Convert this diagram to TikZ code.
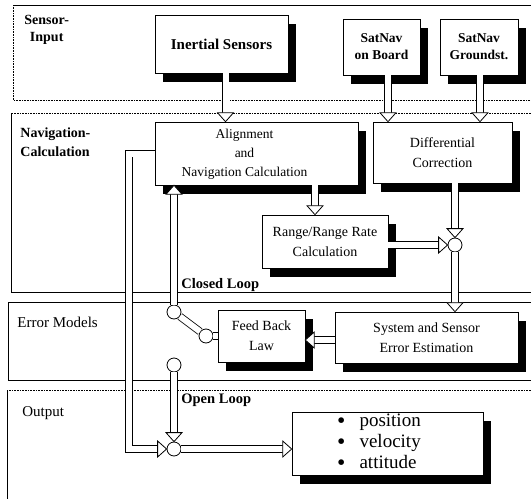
\documentclass[tikz,border=0pt]{standalone}
\usepackage{fontspec}
\setmainfont{Liberation Serif}
\usetikzlibrary{calc}
\tikzset{
  every picture/.style={
    line width=0.8pt
  },
  blk/.style={
    draw, fill=white, line width=0.6pt, align=center,
    inner sep=2pt, font=\fontsize{14}{20}\selectfont
  },
  shd/.style={
    inner sep=0pt, outer sep=0pt
  },
  junc/.style={
    circle, draw, fill=white, minimum size=14pt,
    inner sep=0pt
  },
  pipe/.style={
    draw, double=white, double distance=6pt
  },
  arr/.style={
    pipe, shorten >=9pt
  },
  head/.pic={
    \draw[fill=white] (0,0) -- (-9,-8) -- (-9,8) -- cycle;
  },
  lbl/.style={
    anchor=north west, align=left, inner sep=0pt,
    font=\fontsize{14}{17}\selectfont\bfseries
  },
  band/.style={line width=0.6pt},
  dotband/.style={line width=0.6pt, densely dotted}
}
% block with black shadow: name, centre, width, height, options, text
\newcommand{\shbox}[6]{%
  \node[shd] (#1-sh) at ([xshift=8pt,yshift=-9pt]#2) {\rule{#3}{#4}};
  \node[blk, minimum width=#3, minimum height=#4, #5] (#1) at (#2) {#6};}
\newcommand{\bul}{\raisebox{-0.1em}{\scalebox{1.25}{\textbullet}}}

\begin{document}
\begin{tikzpicture}[x=1pt, y=-1pt]
    \useasboundingbox (0,0) rectangle (531,499);
    % bands
    \draw[band] (531,5) -- (13,5);
    \draw[dotband] (13,5) -- (13,100) -- (531,100);
    \draw[dotband] (531,113) -- (11,113);
    \draw[band] (11,113) -- (11,292) -- (531,292);
    \draw[band] (531,302) -| (8,380) -- (531,380);
    \draw[dotband] (531,390) -- (7,390);
    \draw[band] (7,390) -- (7,499);
    \node[lbl, align=center] (lsens) at (24,15) {Sensor-\\Input};
    \node[lbl, font=\fontsize{14}{19}\selectfont\bfseries] (lnav) at (20,127) {Navigation-\\Calculation};
    \node[lbl, font=\fontsize{15}{17}\selectfont] (lerr) at (17,317) {Error Models};
    \node[lbl, font=\fontsize{15}{17}\selectfont] (lout) at (22,406) {Output};
    \node[lbl, font=\fontsize{14.5}{17}\selectfont\bfseries] (lcl) at (181,278) {Closed Loop};
    \node[lbl, font=\fontsize{14.5}{17}\selectfont\bfseries] (lol) at (181,393) {Open Loop};

    % blocks
    \shbox{inert}{221.5,44}{133pt}{58pt}{font=\fontsize{15}{18}\selectfont\bfseries}{Inertial Sensors}
    \shbox{sbord}{381.5,47}{77pt}{56pt}{font=\fontsize{13.5}{17}\selectfont\bfseries}{SatNav\\on Board}
    \shbox{sgnd}{479,47}{78pt}{56pt}{font=\fontsize{13.5}{17}\selectfont\bfseries}{SatNav\\Groundst.}
    \shbox{align}{256.5,153.5}{203pt}{63pt}{font=\fontsize{13.5}{19}\selectfont}{%
      \begin{tabular}{@{}c@{}}Alignment\\and\\Navigation Calculation\end{tabular}\hspace{24pt}}
    \shbox{diffc}{442.5,152.5}{139pt}{61pt}{}{Differential\\Correction}
    \shbox{rrate}{325,241.5}{126pt}{53pt}{}{Range/Range Rate\\Calculation}
    \shbox{fbl}{261.5,336}{87pt}{52pt}{}{Feed Back\\Law}
    \shbox{sest}{426.5,337.5}{183pt}{51pt}{}{System and Sensor\\Error Estimation}
    \shbox{outp}{387.5,443.5}{191pt}{63pt}{inner sep=0pt, font=\fontsize{19}{21}\selectfont}{%
      \begin{tabular}{@{}l@{\hspace{14pt}}l@{\hspace{17pt}}}
        \bul & position\\
        \bul & velocity\\
        \bul & attitude
      \end{tabular}}

    % junctions and switch
    \node[junc] (sumR) at (455,245) {};
    \node[junc] (sw1) at (174,312) {};
    \node[junc] (sw2) at (206,336) {};
    \node[junc] (sw3) at (174,365) {};
    \node[junc] (sumL) at (174,449) {};

    % signal flow
    \draw[arr] ([xshift=4pt]inert.south) -- ([xshift=4pt]inert.south |- align.north) coordinate (t1);
    \pic[rotate=-90] at (t1) {head};
    \draw[arr] ([xshift=6.5pt]sbord.south) -- ([xshift=6.5pt]sbord.south |- diffc.north) coordinate (t2);
    \pic[rotate=-90] at (t2) {head};
    \draw[arr] ([xshift=1pt]sgnd.south) -- ([xshift=1pt]sgnd.south |- diffc.north) coordinate (t3);
    \pic[rotate=-90] at (t3) {head};
    \draw[arr] ([xshift=58.5pt]align.south) -- ([xshift=58.5pt]align.south |- rrate.north) coordinate (t4);
    \pic[rotate=-90] at (t4) {head};
    \draw[arr] (sumR |- diffc.south) -- (sumR.north);
    \pic[rotate=-90] at (sumR.north) {head};
    \draw[arr] (rrate.east |- sumR) -- (sumR.west);
    \pic at (sumR.west) {head};
    \draw[arr] (sumR.south) -- (sumR |- sest.north) coordinate (t5);
    \pic[rotate=-90] at (t5) {head};
    \draw[arr] ([yshift=-2.5pt]sest.west) -- ([yshift=-2.5pt]sest.west -| fbl.east) coordinate (t6);
    \pic[rotate=180] at (t6) {head};
    \draw[pipe] (fbl.west) -- (sw2);
    \draw[pipe] (sw2) -- (sw1);
    \draw[arr] (sw1) -- (sw1 |- align.south) coordinate (t7);
    \pic[rotate=90] at (t7) {head};
    \draw[arr] (sw3) -- (sumL);
    \pic[rotate=-90] at (sumL.north) {head};
    \draw[arr] (align.west) -- ++(-26,0) |- (sumL.west);
    \pic at (sumL.west) {head};
    \draw[arr] (sumL) -- (sumL -| outp.west) coordinate (t8);
    \pic at (t8) {head};
\end{tikzpicture}
\end{document}
